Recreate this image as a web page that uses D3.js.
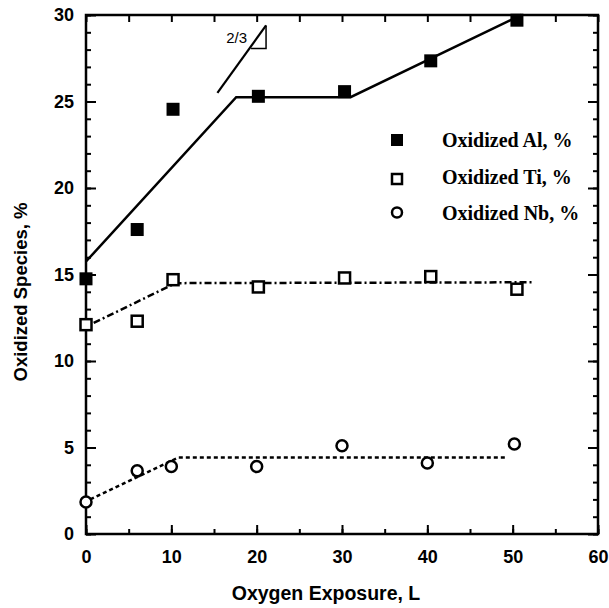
<!DOCTYPE html>
<html>
<head>
<meta charset="utf-8">
<script src="https://cdn.jsdelivr.net/npm/d3@7"></script>
<style>
  body { margin: 0; background: #fff; }
  svg { display: block; }
</style>
</head>
<body>
<script>
var margin = { top: 15, right: 11, bottom: 74, left: 86 },
    outerWidth = 609,
    outerHeight = 608,
    width = outerWidth - margin.left - margin.right,
    height = outerHeight - margin.top - margin.bottom;

// measured points
var exposure = [0, 6, 10.2, 20.2, 30.3, 40.4, 50.5];
var alValues = [14.75, 17.6, 24.55, 25.3, 25.57, 27.35, 29.7];
var tiValues = [12.1, 12.3, 14.7, 14.28, 14.8, 14.88, 14.15];
var nbExposure = [0, 6, 10, 20, 30, 40, 50.2];
var nbValues = [1.85, 3.65, 3.9, 3.9, 5.1, 4.1, 5.2];

// guide lines drawn through the data
var alFitX = [0, 17.6, 31, 51];
var alFitY = [15.75, 25.25, 25.25, 30];
var tiFitX = [0.9, 10.5, 52.3];
var tiFitY = [12.2, 14.5, 14.55];
var nbFitX = [0.5, 10.8, 49.4];
var nbFitY = [2.0, 4.42, 4.42];

// slope marker
var slopeX = [15.4, 21.1];
var slopeY = [25.5, 29.4];
var slopeLabel = "2/3";

var xTicks = [0, 10, 20, 30, 40, 50, 60];
var yTicks = [0, 5, 10, 15, 20, 25, 30];

var svg = d3.select("body").append("svg").attr("width", outerWidth).attr("height", outerHeight);
var g = svg.append("g").attr("transform", "translate(" + margin.left + "," + margin.top + ")");

var x = d3.scaleLinear().domain([0, 60]).range([0, width]);
var y = d3.scaleLinear().domain([0, 30]).range([height, 0]);

// axes, ticks pointing inward
var tickFont = "Liberation Sans, Arial, sans-serif";
function styleAxis(sel) {
  sel.select(".domain").remove();
  sel.selectAll("line").attr("stroke", "#000").attr("stroke-width", 2);
  sel.selectAll("text").attr("font-family", tickFont).attr("font-weight", "bold").attr("font-size", 18).attr("fill", "#000");
}

g.append("g").attr("transform", "translate(0," + height + ")")
  .call(d3.axisBottom(x).tickValues(d3.range(0, 61, 5)).tickSize(-5).tickFormat(""))
  .call(styleAxis);
g.append("g").attr("transform", "translate(0," + height + ")")
  .call(d3.axisBottom(x).tickValues(xTicks).tickSize(-9).tickPadding(16))
  .call(styleAxis);
g.append("g")
  .call(d3.axisTop(x).tickValues(d3.range(0, 61, 5)).tickSize(-7).tickFormat(""))
  .call(styleAxis);

g.append("g")
  .call(d3.axisLeft(y).tickValues(d3.range(0, 31, 1)).tickSize(-5).tickFormat(""))
  .call(styleAxis);
g.append("g")
  .call(d3.axisLeft(y).tickValues(yTicks).tickSize(-10).tickPadding(12))
  .call(styleAxis);
g.append("g").attr("transform", "translate(" + width + ",0)")
  .call(d3.axisRight(y).tickValues(d3.range(0, 31, 1)).tickSize(-5).tickFormat(""))
  .call(styleAxis);
g.append("g").attr("transform", "translate(" + width + ",0)")
  .call(d3.axisRight(y).tickValues(yTicks).tickSize(-10).tickFormat(""))
  .call(styleAxis);

// frame
g.append("rect").attr("width", width).attr("height", height)
  .attr("fill", "none").attr("stroke", "#000").attr("stroke-width", 2.5);

var line = d3.line().x(function (d) { return x(d[0]); }).y(function (d) { return y(d[1]); });
function pairs(a, b) { return a.map(function (v, i) { return [v, b[i]]; }); }

g.append("path").datum(pairs(alFitX, alFitY)).attr("d", line)
  .attr("fill", "none").attr("stroke", "#000").attr("stroke-width", 2.5);
g.append("path").datum(pairs(tiFitX, tiFitY)).attr("d", line)
  .attr("fill", "none").attr("stroke", "#000").attr("stroke-width", 2.5)
  .attr("stroke-dasharray", "7,3,2,3");
g.append("path").datum(pairs(nbFitX, nbFitY)).attr("d", line)
  .attr("fill", "none").attr("stroke", "#000").attr("stroke-width", 2.5)
  .attr("stroke-dasharray", "4,3");

// slope triangle
g.append("path").datum(pairs(slopeX, slopeY)).attr("d", line)
  .attr("fill", "none").attr("stroke", "#000").attr("stroke-width", 2.2);
var triTop = y(slopeY[1]), triBot = triTop + 23, triR = x(slopeX[1]);
g.append("path").attr("d", "M" + triR + "," + triTop + "V" + triBot + "H" + (triR - 15))
  .attr("fill", "none").attr("stroke", "#000").attr("stroke-width", 1.5);
g.append("text").attr("x", triR - 19).attr("y", triTop + 18).attr("text-anchor", "end")
  .attr("font-family", tickFont).attr("font-size", 15).text(slopeLabel);

// markers
var sq = 13;
g.selectAll(".al").data(pairs(exposure, alValues)).enter().append("rect")
  .attr("x", function (d) { return x(d[0]) - sq / 2; }).attr("y", function (d) { return y(d[1]) - sq / 2; })
  .attr("width", sq).attr("height", sq).attr("fill", "#000");
g.selectAll(".ti").data(pairs(exposure, tiValues)).enter().append("rect")
  .attr("x", function (d) { return x(d[0]) - 5.5; }).attr("y", function (d) { return y(d[1]) - 5.5; })
  .attr("width", 11).attr("height", 11).attr("fill", "#fff").attr("stroke", "#000").attr("stroke-width", 2.5);
g.selectAll(".nb").data(pairs(nbExposure, nbValues)).enter().append("circle")
  .attr("cx", function (d) { return x(d[0]); }).attr("cy", function (d) { return y(d[1]); })
  .attr("r", 5.5).attr("fill", "#fff").attr("stroke", "#000").attr("stroke-width", 2.5);

// legend
var legend = svg.append("g").attr("transform", "translate(397,140)");
var legendNames = ["Oxidized Al, %", "Oxidized Ti, %", "Oxidized Nb, %"];
legend.append("rect").attr("x", -6).attr("y", -6).attr("width", 12).attr("height", 12).attr("fill", "#000");
legend.append("rect").attr("x", -5).attr("y", 34).attr("width", 10).attr("height", 10)
  .attr("fill", "#fff").attr("stroke", "#000").attr("stroke-width", 2.5);
legend.append("circle").attr("cx", 0).attr("cy", 72.5).attr("r", 5).attr("fill", "#fff")
  .attr("stroke", "#000").attr("stroke-width", 2.5);
legend.selectAll("text.lg").data(legendNames).enter().append("text")
  .attr("x", 45).attr("y", function (d, i) { return i * 36.5 + 7; })
  .attr("font-family", "Liberation Serif, Times New Roman, serif").attr("font-weight", "bold")
  .attr("font-size", 20).text(function (d) { return d; });

// axis titles
svg.append("text").attr("x", 326).attr("y", 600).attr("text-anchor", "middle")
  .attr("font-family", tickFont).attr("font-weight", "bold").attr("font-size", 19.5).text("Oxygen Exposure, L");
svg.append("text").attr("transform", "translate(27,292) rotate(-90)")
  .attr("text-anchor", "middle")
  .attr("font-family", tickFont).attr("font-weight", "bold").attr("font-size", 18.5).text("Oxidized Species, %");
</script>
</body>
</html>
